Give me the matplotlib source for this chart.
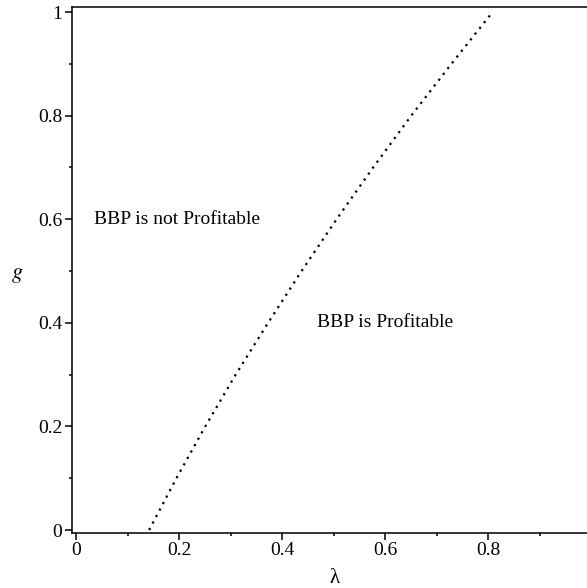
import matplotlib
matplotlib.use("Agg")
import matplotlib.pyplot as plt

plt.rcParams['font.family'] = ['Liberation Serif', 'DejaVu Serif']
plt.rcParams['mathtext.fontset'] = 'stix'

# boundary curve: g vs lambda
g_vals = [0.0, 0.1, 0.2, 0.3, 0.4, 0.5, 0.6, 0.7, 0.8, 0.9, 1.0]
lam_vals = [0.142, 0.195, 0.251, 0.310, 0.373, 0.438, 0.506, 0.577, 0.651, 0.729, 0.809]

x_ticks = [0, 0.2, 0.4, 0.6, 0.8]
x_tick_labels = ['0', '0.2', '0.4', '0.6', '0.8']
y_ticks = [0, 0.2, 0.4, 0.6, 0.8, 1]
y_tick_labels = ['0', '0.2', '0.4', '0.6', '0.8', '1']

region_labels = ['BBP is not Profitable', 'BBP is Profitable']
region_pos = [(0.196, 0.6), (0.6, 0.4)]

fig = plt.figure(figsize=(5.87, 5.88), dpi=100)
ax = fig.add_axes([72/587, 55.3/588, 515/587, 525.7/588])

ax.plot(lam_vals, g_vals, color='black', linewidth=1.6,
        linestyle=(0, (1, 2.3)), dash_capstyle='butt')

for lab, (px, py) in zip(region_labels, region_pos):
    ax.text(px, py, lab, ha='center', va='center', fontsize=14)

ax.set_xlim(-0.0078, 0.9922)
ax.set_ylim(-0.0052, 1.0097)

ax.set_xticks(x_ticks, x_tick_labels)
ax.set_yticks(y_ticks, y_tick_labels)
ax.set_xticks([0.1, 0.3, 0.5, 0.7, 0.9], minor=True)
ax.set_yticks([0.1, 0.3, 0.5, 0.7, 0.9], minor=True)
ax.tick_params(which='major', length=5, width=1.1, labelsize=14, direction='out', pad=2)
ax.tick_params(which='minor', length=2.5, width=1.1, direction='out')

ax.spines['right'].set_visible(False)
for s in ['left', 'bottom', 'top']:
    ax.spines[s].set_linewidth(1.1)

ax.set_xlabel('λ', fontsize=15, va='center')
ax.xaxis.set_label_coords(0.51, -0.088)
ax.set_ylabel('$g$', fontsize=16, rotation=0, ha='center', va='center')
ax.yaxis.set_label_coords(-0.107, 0.49)

fig.savefig('out.png', dpi=100)
